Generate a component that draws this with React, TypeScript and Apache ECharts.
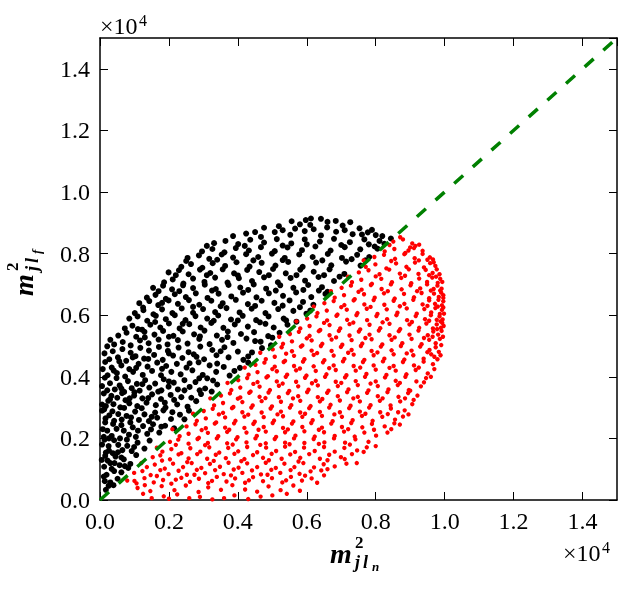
import React, { useEffect, useRef } from "react";
import * as echarts from "echarts";

// values in raw units (axis labels are shown in units of 10^4)
const axisMin = 0;
const axisMax = 15000;
const tickStep = 2000;

// points above the diagonal (black)
const upperPoints: number[][] = [
  [170,330],[250,460],[390,480],[140,610],[300,570],[510,690],[190,820],[620,900],[410,940],[110,760],
  [120,1080],[340,1010],[570,1130],[880,1170],[220,1280],[690,1320],[450,1410],[1050,1460],[150,1430],[820,1040],
  [170,1540],[370,1520],[650,1620],[920,1590],[1290,1670],[250,1750],[530,1790],[790,1760],[1090,1860],[1440,1930],[130,1960],[410,1940],
  [110,2050],[340,2080],[580,2000],[840,2120],[1040,2050],[1370,2150],[1720,2190],[210,2250],[480,2310],[690,2250],[950,2360],[1250,2400],[1540,2460],[1890,2410],[2150,2330],[380,2470],
  [150,2520],[410,2570],[630,2610],[880,2520],[1130,2600],[1420,2560],[1660,2670],[2060,2630],[270,2750],[530,2790],[770,2730],[1020,2870],[1290,2780],[1600,2840],[1840,2910],[2320,2770],[120,2940],[2580,2900],
  [170,3050],[390,3110],[590,3010],[850,3140],[1080,3050],[1350,3160],[1620,3080],[1880,3160],[2240,3100],[2540,3030],[290,3270],[500,3320],[740,3240],[990,3390],[1230,3300],[1510,3430],[1770,3280],[2050,3410],[2360,3340],[2790,3210],[110,3460],[2930,3440],[640,3470],
  [210,3560],[430,3590],[700,3510],[920,3630],[1150,3550],[1430,3650],[1690,3520],[1990,3680],[2260,3590],[2600,3670],[2890,3560],[3240,3520],[290,3790],[570,3720],[810,3860],[1070,3770],[1310,3890],[1600,3780],[1850,3920],[2140,3810],[2450,3890],[2770,3830],[3110,3950],[140,3970],[3400,3750],[480,3960],
  [220,4050],[490,4120],[730,4010],[960,4160],[1240,4060],[1510,4190],[1770,4050],[2070,4160],[2340,4080],[2680,4210],[2980,4060],[3370,4160],[3760,4040],[340,4300],[620,4370],[850,4250],[1120,4420],[1380,4330],[1660,4460],[1920,4350],[2230,4420],[2510,4300],[2860,4470],[3180,4370],[3590,4320],[4060,4290],[150,4480],[4300,4460],
  [270,4570],[520,4630],[760,4520],[1030,4670],[1280,4590],[1570,4710],[1820,4550],[2120,4690],[2390,4610],[2720,4730],[3020,4570],[3380,4700],[3730,4630],[4160,4550],[370,4830],[650,4900],[890,4780],[1170,4940],[1420,4850],[1710,4970],[1970,4840],[2280,4950],[2570,4800],[2910,4980],[3260,4870],[3610,4960],[4000,4820],[4410,4790],[4700,4930],[210,4990],
  [410,5050],[660,5130],[890,5020],[1160,5180],[1410,5090],[1700,5210],[1960,5050],[2260,5190],[2540,5080],[2880,5230],[3180,5060],[3540,5200],[3870,5100],[4250,5240],[4660,5140],[4960,5020],[530,5340],[770,5430],[1050,5300],[1290,5460],[1580,5370],[1830,5490],[2130,5330],[2400,5470],[2730,5380],[3030,5500],[3390,5340],[3710,5470],[4090,5390],[4470,5450],[4880,5320],[5210,5430],
  [720,5570],[940,5660],[1220,5530],[1460,5690],[1750,5600],[2000,5730],[2310,5570],[2590,5710],[2920,5600],[3230,5750],[3580,5590],[3910,5700],[4290,5630],[4640,5770],[5040,5600],[5440,5690],[850,5890],[1090,5960],[1370,5820],[1620,5980],[1910,5870],[2170,6000],[2480,5840],[2770,5970],[3110,5890],[3430,5990],[3800,5860],[4140,5980],[4530,5840],[4890,5960],[5330,5890],[5700,5790],
  [1010,6070],[1260,6160],[1550,6030],[1800,6190],[2100,6070],[2370,6220],[2700,6080],[2990,6200],[3340,6100],[3670,6230],[4050,6090],[4400,6210],[4800,6070],[5170,6200],[5610,6140],[5990,6050],[1140,6390],[1430,6460],[1690,6330],[1990,6480],[2260,6370],[2580,6490],[2880,6340],[3230,6470],[3560,6390],[3940,6500],[4290,6360],[4690,6470],[5060,6400],[5500,6480],[5890,6430],[6190,6340],
  [1360,6570],[1610,6660],[1910,6530],[2170,6680],[2490,6590],[2780,6710],[3120,6560],[3440,6700],[3810,6610],[4150,6730],[4540,6580],[4900,6710],[5310,6630],[5690,6740],[6130,6590],[6540,6690],[1540,6890],[1830,6960],[2090,6840],[2410,6970],[2700,6880],[3040,6990],[3360,6850],[3730,6980],[4070,6900],[4460,7000],[4820,6860],[5230,6970],[5610,6890],[6040,6980],[6440,6910],
  [1860,7070],[2110,7160],[2420,7030],[2700,7190],[3030,7080],[3340,7220],[3700,7060],[4030,7200],[4410,7110],[4760,7230],[5160,7070],[5530,7210],[5950,7120],[6340,7240],[6790,7110],[1990,7390],[2290,7460],[2570,7330],[2900,7480],[3200,7370],[3560,7490],[3890,7360],[4270,7470],[4620,7400],[5020,7500],[5390,7360],[5810,7480],[6200,7410],[6660,7490],[7090,7340],
  [2360,7570],[2640,7660],[2970,7540],[3270,7690],[3630,7600],[3960,7720],[4340,7580],[4690,7700],[5090,7610],[5460,7730],[5880,7570],[6270,7710],[6710,7620],[7140,7740],[7560,7610],[2540,7860],[2870,7940],[3170,7830],[3530,7970],[3860,7870],[4240,7980],[4590,7890],[4990,8000],[5360,7860],[5780,7970],[6170,7890],[6610,7990],[7020,7860],[7460,7960],[7810,7890],
  [2960,8070],[3260,8150],[3610,8040],[3940,8180],[4320,8100],[4670,8210],[5070,8080],[5440,8200],[5860,8110],[6250,8230],[6690,8100],[7100,8210],[7550,8140],[7970,8230],[8050,8160],[3310,8340],[3640,8410],[4010,8310],[4360,8450],[4760,8360],[5130,8470],[5550,8330],[5940,8460],[6380,8390],[6790,8480],[7250,8370],[7670,8460],[8110,8410],[8440,8490],
  [3860,8570],[4240,8650],[4670,8540],[5070,8700],[5520,8610],[5940,8730],[6410,8590],[6850,8710],[7330,8630],[7770,8690],[8190,8570],[4760,8840],[5190,8890],[5660,8810],[6100,8930],[6590,8850],[7040,8910],[7530,8820],[7890,8770],[5560,9050],[5970,9090],[6410,9130],[6840,9060],[7260,9020],[6120,9140]
];

// more black points filling gaps
const upperPointsFill: number[][] = [
  [50,1300],[420,1200],[260,1600],[620,1380],[80,2300],[160,2650],[60,2900],[240,3220],[60,3100],
  [60,1800],[300,1200],[720,1100],[520,1550],[990,1720],[260,2000],[780,1960],[1480,2290],[620,2430],[1100,2250],[1780,2380],
  [360,2880],[900,2680],[1500,2700],[2100,2850],[2450,2620],[700,2990],[1210,2980],[1900,3000],[330,3380],[860,3300],
  [1400,3310],[2150,3250],[2650,3320],[1000,3500],[1780,3560],[2450,3560],[3050,3620],[620,3620],[60,3700],[1230,3760],
  [2000,3850],[2880,3950],[3280,3880],[400,4200],[1050,4290],[1800,4260],[2600,4440],[3400,4430],[3900,4190],[80,4250],
  [560,4500],[1400,4580],[2000,4760],[2800,4650],[3500,4830],[4300,4660],[950,4630],[130,4760],[300,5200],[1300,5280],
  [2000,5300],[2900,5310],[3700,5290],[4500,5160],[5000,5270],[1100,5550],[1600,5780],[2400,5720],[3300,5820],[4000,5830],
  [4800,5720],[5400,5830],[1250,6250],[1800,6400],[2700,6270],[3500,6290],[4500,6300],[5300,6310],[5800,6260],[6100,6150],
  [1700,6780],[2300,6780],[3250,6800],[4300,6820],[5100,6800],[5900,6820],[6350,6800],[6600,6760],[2200,7300],[3100,7300],
  [4000,7290],[4900,7300],[5700,7300],[6500,7300],[6950,7250],[2500,7760],[3400,7800],[4450,7780],[5300,7790],[6450,7780],
  [7300,7820],[7700,7780],[3100,8250],[4200,8250],[5300,8260],[6000,8300],[7000,8280],[7800,8300],[8250,8320],[4500,8700],
  [5300,8760],[6200,8790],[7100,8760],[7600,8620],[8000,8600],[6600,9030],[5800,8950]
];

// points below the diagonal (red)
const lowerPoints: number[][] = [
  [1850,120],[2590,60],[3260,20],[3900,150],[4660,110],[2240,180],[1090,390],[1460,290],[1790,450],[2160,320],[2490,470],[2860,260],[3140,410],[3510,330],[3840,480],[4210,340],[4560,270],[4890,440],[5240,320],[5610,470],[1300,480],[5420,200],
  [790,630],[1060,540],[1290,710],[1560,570],[1830,650],[2070,530],[2360,720],[2610,590],[2870,690],[3140,550],[3390,750],[3670,600],[3920,700],[4210,560],[4440,740],[4730,610],[4990,710],[5290,570],[5540,750],[5860,630],[6140,700],[6500,800],[990,880],[1230,940],[1470,810],[1750,970],[1990,840],[2280,950],[2520,820],[2810,980],[3050,870],[3340,970],[3590,840],[3880,990],[4130,880],[4410,960],[4670,830],[4970,980],[5230,880],[5530,970],[5790,850],[6110,930],[6420,960],
  [1360,1070],[1590,1150],[1880,1020],[2120,1180],[2410,1070],[2660,1200],[2940,1040],[3190,1170],[3480,1080],[3730,1210],[4020,1050],[4270,1190],[4560,1070],[4810,1210],[5100,1040],[5350,1180],[5640,1070],[5900,1200],[6210,1060],[6490,1160],[6810,1090],[7150,1180],[1530,1390],[1750,1450],[2030,1320],[2280,1480],[2570,1350],[2820,1490],[3110,1340],[3360,1470],[3650,1360],[3900,1500],[4190,1330],[4440,1460],[4730,1370],[4980,1500],[5270,1340],[5520,1480],[5810,1370],[6070,1490],[6380,1340],[6650,1470],[6990,1390],[7310,1490],
  [1810,1570],[2070,1650],[2360,1520],[2620,1680],[2910,1570],[3170,1710],[3460,1540],[3720,1690],[4010,1580],[4270,1720],[4560,1550],[4820,1700],[5110,1590],[5370,1730],[5660,1560],[5920,1700],[6230,1590],[6500,1720],[6810,1570],[7090,1690],[7460,1610],[7740,1710],[2030,1890],[2270,1960],[2570,1830],[2830,1980],[3130,1850],[3390,2000],[3690,1840],[3950,1970],[4250,1870],[4510,2000],[4810,1840],[5070,1980],[5370,1860],[5630,2000],[5930,1850],[6200,1980],[6510,1870],[6790,2000],[7110,1860],[7410,1970],[7790,1890],
  [2310,2070],[2570,2150],[2870,2020],[3130,2180],[3430,2070],[3690,2210],[3990,2040],[4250,2190],[4550,2080],[4810,2220],[5110,2050],[5370,2200],[5670,2090],[5930,2230],[6230,2060],[6500,2200],[6810,2080],[7080,2220],[7390,2060],[7670,2190],[8010,2090],[8340,2190],[2510,2390],[2770,2460],[3070,2330],[3330,2480],[3630,2350],[3890,2490],[4190,2340],[4450,2470],[4750,2370],[5010,2500],[5310,2340],[5570,2480],[5870,2370],[6130,2500],[6440,2350],[6710,2480],[7020,2370],[7290,2500],[7610,2360],[7890,2470],[8260,2390],[8540,2490],
  [2810,2570],[3070,2650],[3370,2520],[3630,2680],[3930,2570],[4190,2710],[4490,2540],[4750,2690],[5050,2580],[5310,2720],[5610,2550],[5870,2700],[6170,2590],[6440,2730],[6750,2560],[7020,2700],[7330,2590],[7600,2730],[7910,2570],[8190,2700],[8560,2610],[8790,2710],[3010,2890],[3270,2960],[3570,2830],[3830,2980],[4130,2850],[4390,3000],[4690,2840],[4950,2970],[5250,2870],[5510,3000],[5810,2840],[6070,2980],[6380,2860],[6650,3000],[6960,2850],[7230,2980],[7540,2870],[7810,3000],[8130,2850],[8440,2970],[8840,2910],
  [3310,3070],[3570,3150],[3870,3020],[4130,3180],[4430,3070],[4690,3210],[4990,3040],[5250,3190],[5550,3080],[5810,3220],[6110,3050],[6380,3200],[6690,3090],[6960,3230],[7270,3060],[7540,3200],[7850,3080],[8120,3220],[8430,3070],[8710,3200],[9060,3110],[3510,3390],[3770,3460],[4070,3330],[4330,3480],[4630,3350],[4890,3490],[5190,3340],[5450,3470],[5750,3370],[6010,3500],[6320,3340],[6590,3480],[6900,3370],[7170,3500],[7480,3350],[7750,3480],[8060,3370],[8340,3500],[8660,3350],[8940,3470],[9210,3390],
  [3810,3570],[4070,3650],[4370,3520],[4630,3680],[4930,3570],[5190,3710],[5490,3540],[5750,3690],[6050,3580],[6320,3720],[6630,3550],[6900,3700],[7210,3590],[7480,3730],[7790,3560],[8060,3700],[8370,3590],[8640,3730],[8960,3570],[9310,3690],[4010,3890],[4270,3960],[4570,3830],[4830,3980],[5130,3850],[5390,4000],[5690,3840],[5950,3970],[6260,3870],[6530,4000],[6840,3840],[7110,3980],[7420,3860],[7690,4000],[8000,3850],[8270,3980],[8580,3870],[8860,4000],[9180,3850],[9460,3960],
  [4310,4070],[4570,4150],[4870,4020],[5130,4180],[5430,4070],[5690,4210],[5990,4040],[6260,4190],[6570,4080],[6840,4220],[7150,4050],[7420,4200],[7730,4090],[8000,4230],[8310,4060],[8580,4200],[8890,4080],[9160,4220],[9510,4110],[4510,4390],[4770,4460],[5070,4330],[5330,4480],[5630,4350],[5890,4490],[6200,4340],[6470,4470],[6780,4370],[7050,4500],[7360,4350],[7630,4480],[7940,4370],[8210,4500],[8520,4350],[8790,4480],[9110,4370],[9390,4490],[9660,4410],
  [4810,4570],[5070,4650],[5370,4520],[5630,4680],[5930,4570],[6200,4710],[6510,4540],[6780,4690],[7090,4580],[7360,4720],[7670,4550],[7940,4700],[8250,4590],[8520,4730],[8830,4560],[9090,4700],[9390,4590],[9610,4730],[9790,4570],[5010,4890],[5270,4960],[5570,4830],[5830,4980],[6140,4850],[6410,5000],[6720,4840],[6990,4970],[7300,4870],[7570,5000],[7880,4840],[8150,4980],[8460,4860],[8730,5000],[9040,4850],[9290,4980],[9560,4870],[9740,4960],[9830,4810],
  [5310,5070],[5570,5150],[5870,5020],[6140,5180],[6450,5070],[6720,5210],[7030,5040],[7300,5190],[7610,5080],[7880,5220],[8190,5050],[8460,5200],[8770,5090],[9040,5230],[9330,5060],[9550,5200],[9740,5090],[9860,5230],[9900,5030],[5510,5390],[5770,5460],[6080,5330],[6350,5480],[6660,5350],[6930,5490],[7240,5340],[7510,5470],[7820,5370],[8090,5500],[8400,5350],[8670,5480],[8980,5370],[9240,5500],[9510,5350],[9670,5470],[9810,5370],[9910,5490],
  [5810,5570],[6080,5650],[6390,5520],[6660,5680],[6970,5570],[7240,5710],[7550,5540],[7820,5690],[8130,5580],[8400,5720],[8710,5550],[8980,5700],[9260,5590],[9470,5730],[9660,5570],[9770,5700],[9890,5590],[9930,5750],[6010,5890],[6280,5960],[6590,5830],[6860,5980],[7170,5850],[7440,6000],[7750,5840],[8020,5970],[8330,5870],[8600,6000],[8910,5840],[9160,5970],[9430,5870],[9600,6000],[9770,5850],[9850,5960],[9940,5860],
  [6310,6070],[6580,6150],[6890,6020],[7160,6180],[7470,6070],[7740,6210],[8050,6040],[8320,6190],[8630,6080],[8900,6220],[9190,6050],[9410,6200],[9610,6090],[9730,6230],[9860,6040],[9920,6170],[6510,6390],[6780,6460],[7090,6330],[7360,6480],[7670,6350],[7940,6490],[8250,6340],[8520,6470],[8830,6370],[9090,6500],[9360,6350],[9550,6480],[9720,6370],[9820,6500],[9920,6320],[9960,6450],
  [6810,6570],[7080,6650],[7390,6520],[7660,6680],[7970,6570],[8240,6710],[8550,6540],[8820,6690],[9110,6580],[9330,6720],[9550,6550],[9690,6700],[9830,6590],[9900,6730],[9960,6560],[7010,6890],[7280,6960],[7590,6830],[7860,6980],[8170,6850],[8440,7000],[8750,6840],[9010,6970],[9290,6870],[9490,7000],[9680,6850],[9790,6960],[9910,6860],
  [7310,7070],[7580,7150],[7890,7020],[8160,7180],[8470,7070],[8740,7210],[9030,7040],[9260,7190],[9490,7080],[9640,7220],[9800,7050],[9870,7180],[7510,7390],[7790,7460],[8110,7330],[8390,7480],[8700,7350],[8960,7490],[9240,7340],[9450,7470],[9650,7370],[9770,7490],[9850,7330],
  [7710,7570],[7990,7650],[8310,7520],[8590,7680],[8890,7570],[9140,7710],[9400,7550],[9580,7690],[9730,7600],[7960,7890],[8240,7960],[8560,7830],[8830,7980],[9130,7850],[9360,7990],[9570,7880],[9660,7810],
  [8260,8070],[8540,8150],[8860,8020],[9110,8180],[9360,8090],[8510,8390],[8790,8460],[9060,8330],[9260,8290],[8710,8530]
];

// more red points filling gaps
const lowerPointsFill: number[][] = [
  [1500,60],[2000,40],[2900,100],[3600,60],[4300,30],[5000,150],[5800,300],[1250,200],[1000,620],[1650,780],
  [2200,660],[2740,820],[3250,620],[3800,800],[4320,640],[4860,820],[5400,640],[5950,790],[6300,560],[6600,1000],
  [1200,1200],[1800,1280],[2530,1230],[3300,1270],[4100,1260],[4900,1290],[5760,1250],[6600,1290],[7100,1330],[7450,1200],
  [1650,1700],[2200,1790],[3050,1780],[3850,1800],[4650,1790],[5500,1810],[6350,1820],[7250,1800],[7650,1560],[8000,1750],
  [2100,2300],[2950,2270],[3750,2280],[4600,2280],[5450,2290],[6350,2280],[7200,2300],[7950,2280],[8450,2300],[8700,2450],
  [2700,2800],[3450,2780],[4300,2770],[5150,2780],[5950,2800],[6800,2780],[7700,2800],[8350,2790],[8650,2850],[8950,2780],
  [3200,3300],[4000,3290],[4800,3310],[5600,3300],[6450,3280],[7350,3300],[8200,3300],[8850,3300],[9100,3250],[9000,3550],
  [3700,3800],[4450,3770],[5300,3780],[6150,3790],[7000,3800],[7850,3780],[8700,3800],[9400,3820],[9600,4000],[4200,4300],
  [5000,4250],[5800,4270],[6650,4280],[7550,4300],[8400,4290],[9250,4300],[9700,4250],[4650,4780],[5400,4750],[6300,4770],
  [7200,4780],[8050,4790],[8900,4760],[9500,4800],[9700,4650],[9880,4700],[5200,5300],[6000,5250],[6850,5280],[7700,5260],
  [8550,5280],[9400,5260],[9650,5300],[9950,5300],[9780,5550],[5700,5800],[6500,5750],[7350,5760],[8200,5770],[9050,5780],
  [9550,5820],[9880,5800],[9970,5650],[6200,6280],[7000,6260],[7850,6270],[8700,6290],[9500,6300],[9800,6280],[9960,6250],
  [9980,6050],[6700,6780],[7500,6760],[8350,6780],[9200,6780],[9600,6800],[9870,6800],[9960,6650],[7200,7250],[8000,7260],
  [8850,7280],[9550,7300],[9750,7250],[9930,7080],[7650,7780],[8450,7760],[9250,7780],[9500,7800],[9680,7720],[8400,8280],
  [9000,8200],[9150,8250],[8950,8100]
];

// the dashed diagonal y = x
const diagonal: number[][] = [[0, 0], [15000, 15000]];

const serif = "Liberation Serif";

function mathText(text: string, x: number, y: number, size: number, italic: boolean) {
  return {
    type: "text",
    x,
    y,
    style: {
      text,
      fontFamily: serif,
      fontSize: size,
      fontWeight: "bold",
      fontStyle: italic ? "italic" : "normal",
      fill: "#000",
      align: "left",
      verticalAlign: "middle",
    },
  };
}

function mathLabel(x: number, y: number, rotation: number, sub: string) {
  return {
    type: "group",
    x,
    y,
    rotation,
    children: [
      mathText("m", 0, -9.5, 28, true),
      mathText("2", 25, -20.5, 17, false),
      mathText("j", 25, -1.5, 18, true),
      mathText("l", 33, -1.5, 18, true),
      mathText(sub, 42, 3, 13, true),
    ],
  };
}

function offsetLabel(x: number, y: number) {
  return {
    type: "group",
    x,
    y,
    children: [
      {
        type: "text",
        x: 0,
        y: 0,
        style: { text: "×10", fontFamily: serif, fontSize: 24, fill: "#000", align: "left", verticalAlign: "middle" },
      },
      {
        type: "text",
        x: 39,
        y: -6,
        style: { text: "4", fontFamily: serif, fontSize: 16, fill: "#000", align: "left", verticalAlign: "middle" },
      },
    ],
  };
}

export default function App() {
  const ref = useRef<HTMLDivElement>(null);

  useEffect(() => {
    if (!ref.current) return;
    const chart = echarts.init(ref.current, undefined, { renderer: "svg" });
    const axisLine = { show: true, onZero: false, lineStyle: { color: "#000", width: 1.5 } };
    const axisTick = { show: true, inside: true, length: 8, lineStyle: { color: "#000", width: 1 } };
    const labelStyle = {
      fontFamily: serif,
      fontSize: 24,
      color: "#000",
      showMaxLabel: false,
      formatter: (v: number) => (v / 10000).toFixed(1),
    };
    const common = { type: "value", min: axisMin, max: axisMax, interval: tickStep, splitLine: { show: false }, axisLine, axisTick };
    chart.setOption({
      animation: false,
      grid: { left: 100, top: 38, right: 15, bottom: 94 },
      xAxis: [
        { ...common, position: "bottom", axisLabel: { ...labelStyle, margin: 9 } },
        { ...common, position: "top", axisLabel: { show: false } },
      ],
      yAxis: [
        { ...common, position: "left", axisLabel: { ...labelStyle, margin: 10 } },
        { ...common, position: "right", axisLabel: { show: false } },
      ],
      series: [
        {
          type: "scatter",
          data: upperPoints.concat(upperPointsFill),
          symbol: "circle",
          symbolSize: 6,
          itemStyle: { color: "#000000", opacity: 1 },
          xAxisIndex: 0,
          yAxisIndex: 0,
        },
        {
          type: "scatter",
          data: lowerPoints.concat(lowerPointsFill),
          symbol: "circle",
          symbolSize: 4.4,
          itemStyle: { color: "#ff0000", opacity: 1 },
          xAxisIndex: 0,
          yAxisIndex: 0,
        },
        {
          type: "line",
          data: diagonal,
          symbol: "none",
          lineStyle: { color: "#008000", width: 3.5, type: [12, 13] },
          xAxisIndex: 0,
          yAxisIndex: 0,
        },
      ],
      graphic: [
        offsetLabel(100, 26),
        offsetLabel(563, 553),
        mathLabel(330, 563, 0, "n"),
        mathLabel(33, 296, Math.PI / 2, "f"),
      ],
    });
    return () => chart.dispose();
  }, []);

  return <div ref={ref} style={{ position: "fixed", left: 0, top: 0, width: 632, height: 594 }} />;
}
